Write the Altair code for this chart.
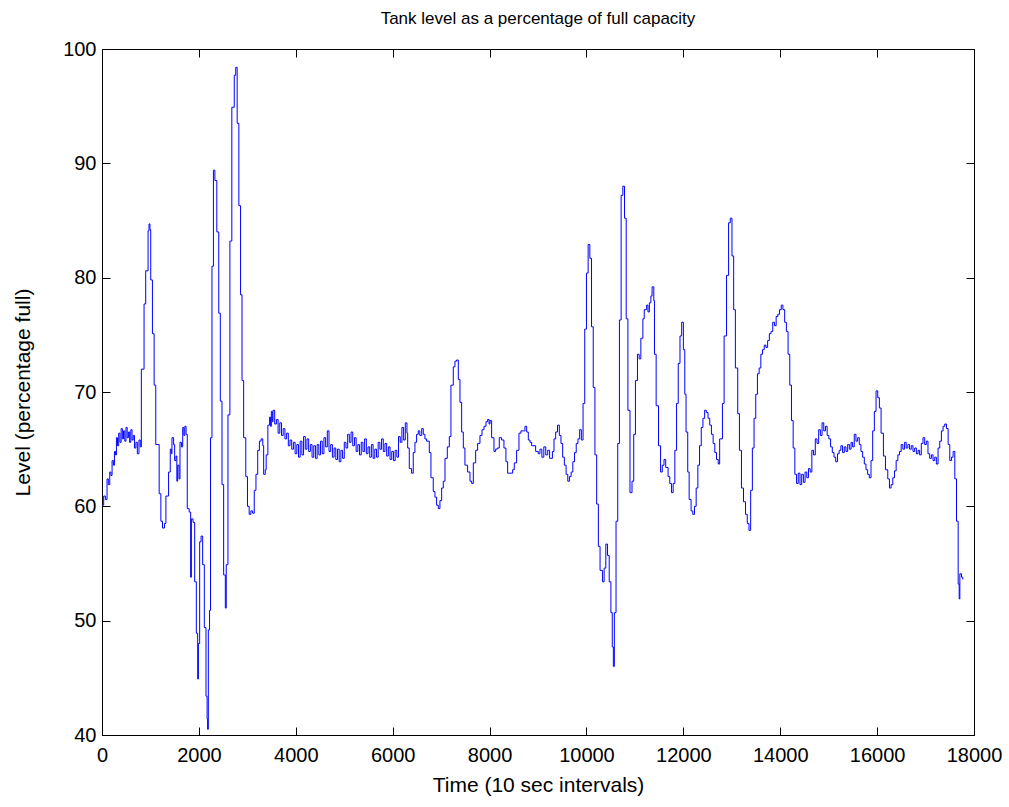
import altair as alt
import pandas as pd

# (time, level) step points, grouped by stretch of the record
seg_start = [(0,60.1),(35,60.9),(70,60.6),(104,62.4),(130,61.9),(160,63.0),(185,62.7),(208,64.0),(235,63.6),
             (257,64.8),(280,64.5),(298,66.0),(320,65.3),(345,66.4),(370,65.6),(395,66.8),(420,65.9),(445,66.6),
             (470,65.7),(495,66.9),(520,66.0),(545,66.5),(570,65.6),(595,66.7),(620,65.8),(645,66.2),(670,65.1),
             (700,65.6),(729,64.6),(763,65.8),(790,65.2)]
seg_early_peaks = [(812,72.0),(868,77.7),(902,80.6),(951,84.1),(970,84.7),(990,84.2),(1006,79.8),(1041,75.1),
             (1076,70.6),(1110,65.4),(1180,61.1),(1215,58.7),(1249,58.1),(1290,58.5),(1319,60.9),(1374,63.0),
             (1409,65.0),(1430,64.6),(1444,66.0),(1478,65.4),(1500,64.0),(1527,64.4),(1545,62.2),(1562,63.6),
             (1590,62.4),(1610,65.6),(1640,65.2),(1666,66.9),(1690,66.2),(1710,67.0),(1735,66.3),(1760,59.8),
             (1800,59.5),(1830,53.8),(1845,58.9),(1880,58.6),(1913,53.4),(1947,48.9),(1975,44.9),(1990,48.0),
             (2016,56.9),(2045,57.4),(2078,54.9),(2112,49.4),(2147,43.4),(2170,41.4),(2180,40.5),(2195,49.2),
             (2220,50.9),(2240,66.0),(2270,81.0),(2300,89.4),(2330,88.5),(2370,84.0),(2410,76.9),(2442,69.2),
             (2477,61.9),(2511,54.0),(2546,51.1),(2565,54.9),(2600,68.0),(2640,83.2),(2680,94.9),(2730,97.7),
             (2760,98.4),(2790,93.5),(2825,86.3),(2860,78.5),(2890,71.0),(2924,66.0),(2968,62.6),(3003,60.0),
             (3038,59.3),(3073,59.6),(3108,59.4),(3143,61.4),(3178,62.8),(3214,64.9),(3249,65.7),(3284,65.9),
             (3319,65.3)]
seg_plateau = [(3337,62.8),(3370,63.2),(3389,64.5),(3424,67.1),(3459,67.8),(3480,67.0),(3495,68.3),(3515,67.4),
             (3530,68.4),(3565,67.2),(3600,67.6),(3635,66.4),(3670,67.3),(3705,66.2),(3740,66.8),(3776,65.9),
             (3811,66.4),(3846,65.3),(3881,65.8),(3916,65.0),(3951,65.6),(3986,64.6),(4021,65.4),(4056,64.3),
             (4091,65.7),(4126,64.5),(4161,66.1),(4196,65.0),(4231,65.9),(4266,64.8),(4301,65.4),(4336,64.3),
             (4371,65.3),(4406,64.2),(4441,65.4),(4476,64.5),(4511,65.7),(4546,64.6),(4581,66.0),(4616,65.2),
             (4651,66.6),(4686,64.8),(4721,65.4),(4756,64.3),(4791,65.1),(4826,64.1),(4861,65.0),(4896,63.9),
             (4931,64.9),(4966,64.2),(5001,65.6),(5036,65.1),(5071,66.3),(5106,65.6),(5141,66.5),(5176,65.3),
             (5211,66.0),(5246,64.8),(5281,65.4),(5316,64.5),(5351,65.6),(5386,64.8),(5421,65.9),(5456,64.6),
             (5491,65.2),(5526,64.3),(5561,65.4),(5596,64.2),(5631,65.0),(5666,64.3),(5701,65.6),(5736,65.0),
             (5771,65.9),(5806,64.8),(5841,65.5),(5876,64.4),(5911,65.2),(5946,64.1),(5981,64.8),(6016,64.0),
             (6051,64.9),(6086,64.3),(6121,66.1),(6156,65.6),(6191,66.9),(6226,65.8),(6261,67.3),(6295,66.4)]
seg_middle = [(6310,65.1),(6343,63.3),(6391,62.9),(6425,64.7),(6460,65.6),(6494,66.3),(6529,66.6),(6560,66.2),
             (6600,66.8),(6632,66.3),(6666,65.9),(6701,65.7),(6756,64.7),(6790,62.5),(6838,61.3),(6873,60.8),
             (6907,60.1),(6942,59.8),(6976,60.5),(7011,61.6),(7045,62.2),(7080,64.2),(7128,65.2),(7169,66.1),
             (7203,70.6),(7251,72.2),(7286,72.7),(7320,72.8),(7355,71.1),(7389,69.1),(7424,66.5),(7458,65.1),
             (7492,63.6),(7547,63.0),(7596,62.2),(7630,62.0),(7665,63.8),(7713,64.9),(7754,65.5),(7802,66.2),
             (7844,66.7),(7885,67.0),(7926,67.4),(7960,67.6),(7990,67.2),(8009,67.5),(8043,66.0),(8091,64.8),
             (8125,65.0),(8160,65.1),(8201,66.0),(8249,65.8),(8297,65.1),(8338,63.9),(8373,62.9),(8421,62.9),
             (8476,63.2),(8510,63.8),(8559,64.9),(8607,66.4),(8648,66.6),(8696,66.6),(8731,67.0),(8766,66.5),
             (8800,65.8),(8834,65.6),(8869,65.3),(8917,65.3),(8951,64.8),(9006,64.6)]
seg_late_peaks = [(9040,65.0),(9080,64.3),(9120,65.2),(9160,64.5),(9200,64.9),(9240,64.2),(9298,64.8),(9330,65.9),
             (9365,66.5),(9403,67.1),(9440,66.2),(9474,65.5),(9509,64.3),(9544,63.6),(9580,62.8),(9615,62.2),
             (9649,62.6),(9684,63.0),(9719,63.9),(9754,64.7),(9789,65.5),(9825,65.9),(9860,66.7),(9895,65.8),
             (9930,69.0),(9965,75.5),(10000,80.4),(10035,82.9),(10070,81.7),(10105,75.7),(10140,70.4),(10175,64.5),
             (10211,60.2),(10246,56.5),(10281,54.4),(10330,53.4),(10365,54.6),(10400,56.7),(10435,55.7),(10470,53.4),
             (10505,50.7),(10533,47.7),(10555,46.0),(10576,50.7),(10611,58.7),(10646,65.5),(10681,76.3),(10716,87.2),
             (10751,88.0),(10786,85.2),(10821,76.4),(10856,68.4),(10899,61.2),(10941,62.2),(10976,66.3),(11011,71.0),
             (11053,73.3),(11088,72.9),(11123,74.7),(11165,76.4),(11193,77.2),(11243,77.6),(11270,77.0),(11299,77.8),
             (11330,78.4),(11355,79.2),(11390,78.0),(11404,73.3),(11439,68.8),(11488,65.3),(11530,63.0),(11565,63.6),
             (11601,64.1),(11636,63.4),(11685,62.6),(11720,62.0),(11755,61.2),(11790,62.0),(11825,64.9),(11860,69.0),
             (11895,72.5),(11931,74.9),(11966,76.1),(12001,73.7)]
seg_ramp = [(12030,69.8),(12056,66.5),(12091,63.0),(12120,60.6),(12160,59.6),(12195,59.3),(12230,60.0),(12265,61.6),
             (12300,63.6),(12335,65.3),(12370,66.9),(12405,67.7),(12440,68.4),(12475,68.2),(12510,67.7),(12545,67.1),
             (12580,66.3),(12615,65.5),(12650,64.7),(12685,64.1),(12720,63.7),(12750,65.9),(12807,69.0),(12842,74.9),
             (12892,80.2),(12934,84.8),(12969,85.2),(13004,81.9),(13039,77.2),(13074,72.1),(13123,68.1),(13158,64.9),
             (13200,61.6),(13242,60.4),(13284,59.3),(13320,58.5),(13355,57.9),(13390,61.4),(13425,65.1),(13460,67.7),
             (13495,69.8),(13530,71.6),(13565,72.1),(13600,73.3),(13635,73.7),(13670,74.1),(13705,73.9),(13740,74.5),
             (13776,75.1),(13811,75.3),(13846,76.1),(13881,75.8),(13916,76.6),(13951,76.8),(13986,77.2),(14021,77.6),
             (14056,77.2),(14092,76.1),(14127,75.3),(14162,73.3),(14197,70.6),(14232,67.5),(14267,65.1),(14302,62.8),
             (14337,62.0),(14372,62.9),(14408,61.9),(14443,62.8),(14478,62.1),(14513,63.0),(14548,62.5),(14583,63.3),
             (14618,63.0),(14653,64.9),(14688,64.5),(14724,65.9),(14759,65.5),(14794,66.7),(14829,66.2),(14864,67.3),
             (14899,66.6),(14934,67.0),(14969,66.2),(15004,65.9),(15040,65.2),(15075,64.7)]
seg_end = [(15110,64.3),(15145,63.9),(15182,64.6),(15217,64.9),(15252,65.3),(15287,64.7),(15322,65.2),(15357,64.8),
             (15392,65.4),(15427,65.0),(15462,65.6),(15493,65.2),(15528,66.3),(15563,65.7),(15598,66.0),(15632,65.4),
             (15666,64.8),(15701,64.3),(15736,63.7),(15770,63.2),(15805,62.8),(15839,62.5),(15874,64.0),(15909,66.6),
             (15943,68.3),(15978,70.1),(16013,69.5),(16047,68.6),(16082,66.4),(16130,64.4),(16172,63.2),(16220,62.4),
             (16255,61.6),(16289,61.9),(16324,62.5),(16358,63.1),(16393,64.0),(16428,64.5),(16462,64.8),(16497,65.4),
             (16532,65.0),(16567,65.6),(16600,65.1),(16635,65.4),(16670,65.0),(16705,65.3),(16740,64.8),(16775,65.1),
             (16810,64.6),(16845,64.9),(16877,64.5),(16912,65.5),(16947,66.0),(16982,65.4),(17016,65.7),(17050,64.6),
             (17085,64.2),(17120,64.5),(17154,64.0),(17189,64.3),(17223,63.7),(17258,65.1),(17293,65.7),(17327,66.6),
             (17362,67.0),(17396,67.2),(17431,66.8),(17466,65.4),(17500,64.0),(17535,64.3),(17569,64.8),(17604,62.4),
             (17639,58.7),(17673,53.2),(17694,51.9),(17708,54.1),(17742,53.8),(17770,53.6)]

x_ticks = [0, 2000, 4000, 6000, 8000, 10000, 12000, 14000, 16000, 18000]
y_ticks = [40, 50, 60, 70, 80, 90, 100]

points = seg_start + seg_early_peaks + seg_plateau + seg_middle + seg_late_peaks + seg_ramp + seg_end
df = pd.DataFrame(points, columns=["t", "level"])

W, H = 872, 686
FONT = "Liberation Sans"
TICK = 8

xscale = alt.Scale(domain=[0, 18000], nice=False, zero=False)
yscale = alt.Scale(domain=[40, 100], nice=False, zero=False)

# labelled axes (bottom / left), no outward ticks
x_axis = alt.Axis(
    values=x_ticks, format="d", title="Time (10 sec intervals)", grid=False, tickSize=0,
    labelPadding=10, titlePadding=9, labelFontSize=20, titleFontSize=21,
    labelFont=FONT, titleFont=FONT, titleFontWeight="normal",
    labelColor="black", titleColor="black", domainColor="black", labelFlush=False)
y_axis = alt.Axis(
    values=y_ticks, format="d", title="Level (percentage full)", grid=False, tickSize=0,
    labelPadding=6, titlePadding=29, labelFontSize=20, titleFontSize=21,
    labelFont=FONT, titleFont=FONT, titleFontWeight="normal",
    labelColor="black", titleColor="black", domainColor="black", labelFlush=False)


def inward(orient, vals):
    # an unlabelled axis pulled inside the frame so that its ticks point inward
    return alt.Axis(orient=orient, values=vals, offset=-TICK, tickSize=TICK, tickColor="black",
                    tickWidth=1, domain=False, labels=False, title=None, grid=False)


line = alt.Chart(df).mark_line(color="#0000ff", strokeWidth=1, interpolate="step-after", clip=True).encode(
    x=alt.X("t:Q", scale=xscale, axis=x_axis),
    y=alt.Y("level:Q", scale=yscale, axis=y_axis),
)

ticks_bl = alt.Chart(df).mark_line(strokeOpacity=0).encode(
    x=alt.X("t:Q", scale=xscale, axis=inward("bottom", x_ticks)),
    y=alt.Y("level:Q", scale=yscale, axis=inward("left", y_ticks)),
)
ticks_tr = alt.Chart(df).mark_line(strokeOpacity=0).encode(
    x=alt.X("t:Q", scale=xscale, axis=inward("top", x_ticks)),
    y=alt.Y("level:Q", scale=yscale, axis=inward("right", y_ticks)),
)

chart = alt.layer(line, ticks_bl, ticks_tr).resolve_axis(x="independent", y="independent").properties(
    width=W, height=H,
    background="white",
    title=alt.Title("Tank level as a percentage of full capacity", fontSize=17, font=FONT,
                    fontWeight="normal", color="black", anchor="middle", offset=11),
    autosize=alt.AutoSizeParams(type="none"),
    padding={"left": 102, "top": 49, "right": 35, "bottom": 72},
).configure_view(stroke="black", strokeWidth=1)

chart.save("out.html", embed_options={"renderer": "svg", "actions": False})
